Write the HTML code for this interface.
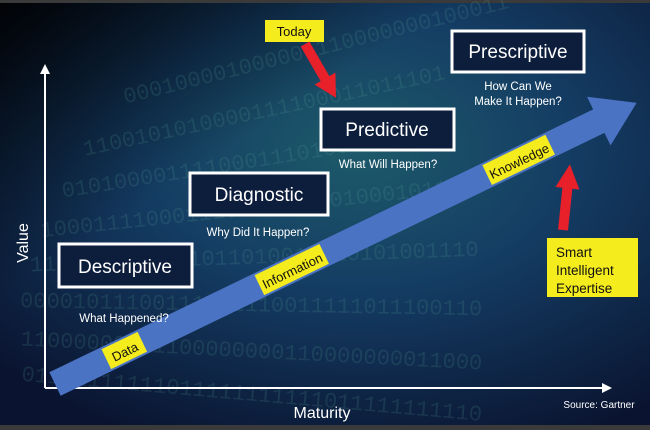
<!DOCTYPE html>
<html><head><style>
html,body{margin:0;padding:0;background:#222;}
svg{display:block;font-family:"Liberation Sans",Arial,sans-serif;}
</style></head><body>
<svg width="650" height="430" viewBox="0 0 650 430" xmlns="http://www.w3.org/2000/svg">
<defs>
<radialGradient id="bg" cx="0.55" cy="0.35" r="0.75">
<stop offset="0" stop-color="#1d5a6a"/>
<stop offset="0.45" stop-color="#143c63"/>
<stop offset="1" stop-color="#0a1430"/>
</radialGradient>
<linearGradient id="dk" x1="0" y1="0" x2="1" y2="1">
<stop offset="0" stop-color="#000" stop-opacity="0.9"/>
<stop offset="0.35" stop-color="#000" stop-opacity="0"/>
</linearGradient>
</defs>
<rect width="650" height="430" fill="#3a3a3a"/>
<rect x="0" y="3" width="650" height="422" fill="url(#bg)"/>
<rect x="0" y="3" width="650" height="422" fill="url(#dk)"/>
<g fill="#5fb09a" fill-opacity="0.16" font-size="22" font-family="Liberation Mono,monospace">
<text x="120" y="60" transform="rotate(-14 300 60)">000100001000001110000000100011</text>
<text x="80" y="110" transform="rotate(-12 300 110)">1100101010000111100011011101</text>
<text x="60" y="160" transform="rotate(-9 300 160)">010100001111000111010010101110</text>
<text x="40" y="210" transform="rotate(-6 300 210)">10001111000111011110100100010110</text>
<text x="30" y="262" transform="rotate(-2 300 262)">1101001101001011010010110101001110</text>
<text x="20" y="312" transform="rotate(1 300 312)">00001011100111101110011111011100110</text>
<text x="20" y="360" transform="rotate(3 300 360)">11000000001100000000110000000011000</text>
<text x="20" y="405" transform="rotate(5 300 405)">01111111111011111111111011111111110</text>
</g>
<!-- axes -->
<g stroke="#fff" stroke-width="2" fill="none">
<line x1="45" y1="388" x2="45" y2="72"/>
<line x1="45" y1="388" x2="604" y2="388"/>
</g>
<polygon points="45,64 40,74 50,74" fill="#fff"/>
<polygon points="612,388 602,383 602,393" fill="#fff"/>
<!-- blue arrow -->
<g transform="translate(55,384) rotate(-25.8)">
<polygon points="0,-13 604,-13 604,-27 646,0 604,27 604,13 0,13" fill="#4a73c4"/>
<rect x="57" y="-11" width="40" height="22" fill="#f5ec1e"/>
<text x="77" y="6" font-size="13" text-anchor="middle" fill="#111">Data</text>
<rect x="227" y="-11" width="72" height="22" fill="#f5ec1e"/>
<text x="263" y="6" font-size="13" text-anchor="middle" fill="#111">Information</text>
<rect x="480" y="-11" width="70" height="22" fill="#f5ec1e"/>
<text x="515" y="6" font-size="13" text-anchor="middle" fill="#111">Knowledge</text>
</g>
<!-- boxes -->
<g fill="#0d1e3d" stroke="#fff" stroke-width="3">
<rect x="59" y="244" width="133" height="43"/>
<rect x="190" y="173" width="138" height="42"/>
<rect x="321" y="109" width="133" height="41"/>
<rect x="452" y="31" width="132" height="41"/>
</g>
<g fill="#fff" text-anchor="middle" font-size="19">
<text x="125" y="273">Descriptive</text>
<text x="259" y="201">Diagnostic</text>
<text x="387" y="136">Predictive</text>
<text x="518" y="58">Prescriptive</text>
</g>
<g fill="#fff" text-anchor="middle" font-size="11.5">
<text x="124" y="322">What Happened?</text>
<text x="258" y="236">Why Did It Happen?</text>
<text x="388" y="168">What Will Happen?</text>
<text x="518" y="90">How Can We</text>
<text x="518" y="105">Make It Happen?</text>
</g>
<!-- Today -->
<rect x="265" y="20" width="59" height="22" fill="#f5ec1e"/>
<text x="294" y="36" font-size="13" text-anchor="middle" fill="#111">Today</text>
<g transform="translate(305,44) rotate(-30)">
<polygon points="-5,0 5,0 5,40 12,40 0,62 -12,40 -5,40" fill="#e8202a"/>
</g>
<!-- Smart -->
<rect x="547" y="238" width="91" height="59" fill="#f5ec1e"/>
<g font-size="13.5" fill="#111">
<text x="556" y="257">Smart</text>
<text x="556" y="275">Intelligent</text>
<text x="556" y="293">Expertise</text>
</g>
<g transform="translate(563,230) rotate(186)">
<polygon points="-5,0 5,0 5,42 12,42 0,66 -12,42 -5,42" fill="#e8202a"/>
</g>
<!-- labels -->
<text x="28" y="243" font-size="16" fill="#fff" text-anchor="middle" transform="rotate(-90 28 243)">Value</text>
<text x="322" y="418" font-size="16" fill="#fff" text-anchor="middle">Maturity</text>
<text x="599" y="408" font-size="10" fill="#fff" text-anchor="middle">Source: Gartner</text>
</svg>
</body></html>
